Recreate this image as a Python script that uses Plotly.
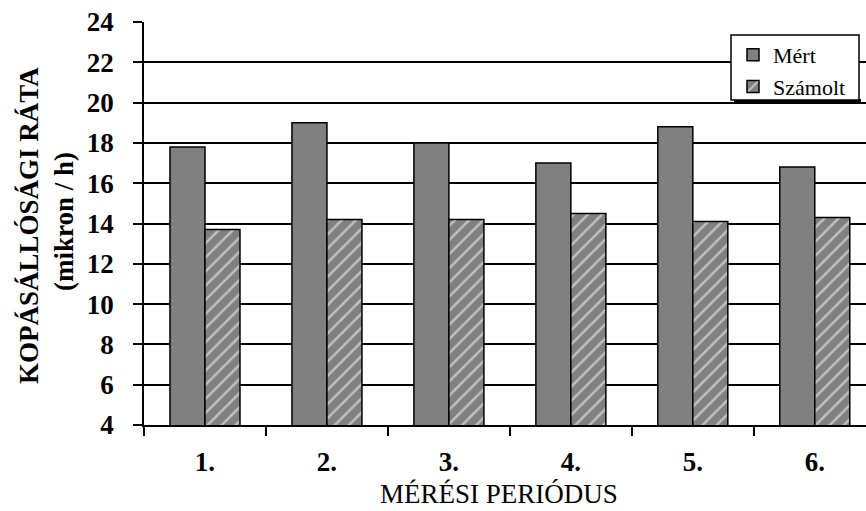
import plotly.graph_objects as go

# Measurement periods and wear-rate values (mikron / h)
periods = ["1.", "2.", "3.", "4.", "5.", "6."]
mert = [17.8, 19.0, 18.0, 17.0, 18.8, 16.8]
szamolt = [13.7, 14.2, 14.2, 14.5, 14.1, 14.3]
y_ticks = [4, 6, 8, 10, 12, 14, 16, 18, 20, 22, 24]

SERIF = "Liberation Serif, Times New Roman, DejaVu Serif, serif"
W, H = 866, 511
ML, MT, MB = 144, 22, 86
PW, PH = W - ML, H - MT - MB

def px_x(px):
    return (px - ML) / PW

def px_y(py):
    return (H - MB - py) / PH

fig = go.Figure()
fig.add_trace(go.Bar(
    x=periods, y=mert, name="Mért", legendgroup="a",
    marker=dict(color="#808080", line=dict(color="black", width=1.5)),
))
fig.add_trace(go.Bar(
    x=periods, y=szamolt, name="Számolt", legendgroup="b",
    marker=dict(
        color="#808080",
        line=dict(color="black", width=1.5),
        pattern=dict(shape="/", fgcolor="white", bgcolor="#808080",
                     size=10, solidity=0.25),
    ),
))

fig.update_layout(
    width=W, height=H,
    margin=dict(l=ML, r=0, t=MT, b=MB, pad=0),
    paper_bgcolor="white", plot_bgcolor="white",
    barmode="group", bargap=0.426, bargroupgap=0,
    font=dict(family=SERIF, color="black"),
    showlegend=True,
    legend=dict(
        x=px_x(733), y=px_y(34), xanchor="left", yanchor="top",
        borderwidth=0, bgcolor="rgba(0,0,0,0)",
        font=dict(family=SERIF, size=22, color="black"),
        tracegroupgap=0, traceorder="grouped",
        itemwidth=30,
    ),
    xaxis=dict(
        type="category", range=[-0.5, 5.42],
        showline=True, linecolor="black", linewidth=1.5,
        ticks="outside", tickson="boundaries", ticklen=9,
        tickwidth=1.5, tickcolor="black",
        tickfont=dict(family=SERIF, size=27, weight="bold"),
        ticklabelstandoff=12,
        showgrid=False,
    ),
    yaxis=dict(
        range=[4, 24], tickvals=y_ticks,
        showline=True, linecolor="black", linewidth=1.5,
        ticks="outside", ticklen=9, tickwidth=1.5, tickcolor="black",
        tickfont=dict(family=SERIF, size=27, weight="bold"),
        ticklabelstandoff=14,
        showgrid=True, gridcolor="black", gridwidth=1.5,
        zeroline=False,
    ),
)

# Legend frame with its drop shadow along the bottom edge
fig.add_shape(
    type="rect", xref="paper", yref="paper", layer="above",
    x0=px_x(734), x1=px_x(861), y0=px_y(104), y1=px_y(99),
    fillcolor="black", line=dict(width=0),
)
fig.add_shape(
    type="rect", xref="paper", yref="paper", layer="above",
    x0=px_x(731), x1=px_x(859), y0=px_y(100), y1=px_y(35),
    fillcolor="white", line=dict(color="black", width=1.5),
)

# Axis titles
fig.add_annotation(
    text="<b>KOPÁSÁLLÓSÁGI RÁTA</b>", textangle=-90,
    xref="paper", yref="paper", x=px_x(29), y=px_y(226),
    xanchor="center", yanchor="middle",
    showarrow=False, font=dict(family=SERIF, size=27, color="black"),
)
fig.add_annotation(
    text="<b>(mikron / h)</b>", textangle=-90,
    xref="paper", yref="paper", x=px_x(64), y=px_y(222),
    xanchor="center", yanchor="middle",
    showarrow=False, font=dict(family=SERIF, size=27, color="black"),
)
fig.add_annotation(
    text="MÉRÉSI PERIÓDUS",
    xref="paper", yref="paper", x=px_x(499), y=px_y(494),
    xanchor="center", yanchor="middle",
    showarrow=False, font=dict(family=SERIF, size=27, color="black"),
)

fig.write_html("out.html")
